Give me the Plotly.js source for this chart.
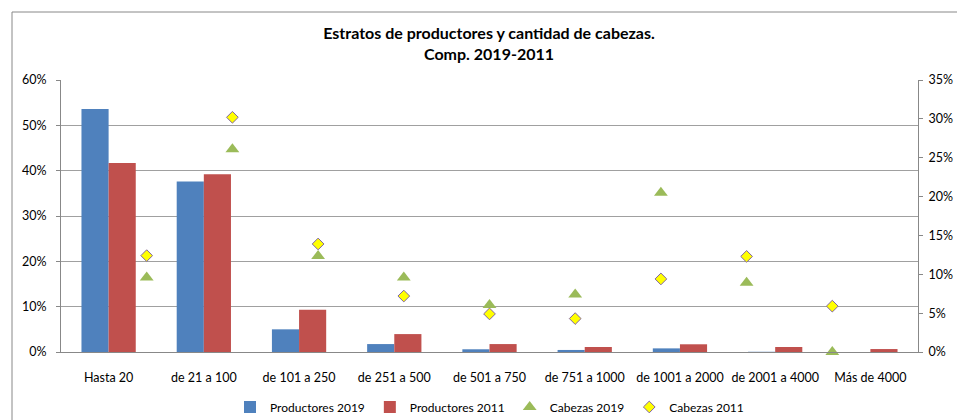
<!DOCTYPE html>
<html>
<head>
<meta charset="utf-8">
<script src="https://cdn.plot.ly/plotly-3.0.1.min.js"></script>
<style>
html,body{margin:0;padding:0;background:#fff;}
#chart{width:957px;height:420px;}
</style>
</head>
<body>
<div id="chart"></div>
<script>
const categories = ["Hasta 20","de 21 a 100","de 101 a 250","de 251 a 500","de 501 a 750","de 751 a 1000","de 1001 a 2000","de 2001 a 4000","Más de 4000"];
const productores2019 = [53.6, 37.6, 5.0, 1.75, 0.6, 0.45, 0.8, 0.05, 0.0];
const productores2011 = [41.7, 39.2, 9.3, 3.95, 1.75, 1.1, 1.7, 1.1, 0.65];
const cabezas2019 = [9.6, 26.1, 12.35, 9.6, 6.05, 7.4, 20.5, 8.9, 0.0];
const cabezas2011 = [12.4, 30.2, 13.9, 7.2, 4.9, 4.3, 9.4, 12.3, 5.9];
const leftTicks = [0,10,20,30,40,50,60];
const rightTicks = [0,5,10,15,20,25,30,35];

// scatter series sit on a secondary category scale with one extra slot
const markerPos = categories.map((c,i)=>i+1);

const FONT = "Lato, 'Open Sans', sans-serif";
const AX = '#888888';

const traces = [
  {type:'bar', name:'Productores 2019', x:categories, y:productores2019, marker:{color:'#4F81BD'}, xaxis:'x', yaxis:'y'},
  {type:'bar', name:'Productores 2011', x:categories, y:productores2011, marker:{color:'#C0504D'}, xaxis:'x', yaxis:'y'},
  {type:'scatter', mode:'markers', name:'Cabezas 2019', x:markerPos, y:cabezas2019, xaxis:'x2', yaxis:'y2', cliponaxis:false,
   marker:{symbol:'triangle-up', size:12, color:'#9BBB59', line:{width:0}}},
  {type:'scatter', mode:'markers', name:'Cabezas 2011', x:markerPos, y:cabezas2011, xaxis:'x2', yaxis:'y2', cliponaxis:false,
   marker:{symbol:'diamond', size:9, color:'#FFFF00', line:{width:1, color:'#8064A2'}}}
];

const layout = {
  width:957, height:420,
  margin:{l:61, r:39, t:80, b:68},
  paper_bgcolor:'#ffffff', plot_bgcolor:'#ffffff',
  font:{family:FONT, size:12.5, color:'#000'},
  title:{text:'<b>Estratos de productores y cantidad de cabezas.</b><br><b>Comp. 2019-2011</b>', x:0.511, xanchor:'center', y:0.906, yanchor:'top', font:{family:FONT, size:16, color:'#000'}},
  barmode:'group', bargap:0.43, bargroupgap:0,
  showlegend:true,
  legend:{orientation:'h', xref:'paper', yref:'container', x:0.5, xanchor:'center', y:0.031, yanchor:'middle', font:{family:FONT, size:12}, itemwidth:30, tracegroupgap:0, traceorder:'normal'},
  xaxis:{type:'category', showline:true, linecolor:AX, linewidth:1, ticks:'', showgrid:false, ticklabelstandoff:14, tickfont:{family:FONT,size:12.5}, fixedrange:true},
  xaxis2:{overlaying:'x', range:[0,10], visible:false, anchor:'y2', fixedrange:true},
  yaxis:{range:[0,60], tickvals:leftTicks, ticktext:leftTicks.map(v=>v+'%'), showgrid:true, gridcolor:'#A0A0A0', gridwidth:1,
         showline:true, linecolor:AX, ticks:'outside', ticklen:4, tickcolor:AX, zeroline:false, ticklabelstandoff:7, tickfont:{family:FONT,size:12.5}, fixedrange:true},
  yaxis2:{range:[0,35], tickvals:rightTicks, ticktext:rightTicks.map(v=>v+'%'), overlaying:'y', side:'right', anchor:'x2', showgrid:false,
          showline:true, linecolor:AX, ticks:'outside', ticklen:4, tickcolor:AX, zeroline:false, ticklabelstandoff:3, tickfont:{family:FONT,size:12.5}, fixedrange:true},
  shapes:[
    {type:'rect', xref:'paper', yref:'paper', x0:(12-61)/857, x1:(970-61)/857, y0:(352-430)/272, y1:(352-12)/272, line:{color:'#888888', width:1}, fillcolor:'rgba(0,0,0,0)', layer:'below'}
  ]
};

Plotly.newPlot('chart', traces, layout, {displayModeBar:false, staticPlot:true});
</script>
</body>
</html>
